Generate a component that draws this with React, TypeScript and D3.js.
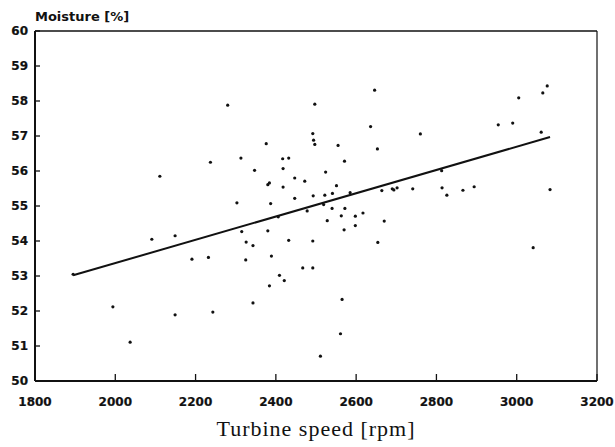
import React from "react";
import * as d3 from "d3";

const speed = [
  1895, 2280, 2237, 2111, 2646, 2497, 2636, 2492, 2494, 2497, 2376, 2555, 2653, 2313, 2417, 2432, 2571,
  2347, 2418, 2524, 2447, 2472, 2380, 2384, 2551, 2418, 2493, 2522, 2541, 2585, 2447, 2664, 2690, 2694,
  2702, 2303, 2387, 2519, 2540, 2572,
  3076, 3065, 3005, 2954, 2990, 3061, 2760, 2813, 2741, 2814, 2826, 2866, 2894, 3083,
  2091, 2149, 2191, 2232, 1994, 2149, 2243, 2037,
  2315, 2406, 2478, 2380, 2326, 2343, 2432, 2492, 2325, 2389, 2467, 2492, 2409, 2421, 2384, 2343, 2565,
  2561, 2511, 2528, 2563, 2598, 2617, 2570, 2598, 2670, 2654,
  3041,
];
const moisture = [
  53.05, 57.88, 56.25, 55.85, 58.31, 57.91, 57.27, 57.07, 56.88, 56.76, 56.78, 56.73, 56.63, 56.37, 56.35,
  56.37, 56.28, 56.02, 56.07, 55.97, 55.8, 55.71, 55.61, 55.66, 55.58, 55.54, 55.29, 55.31, 55.36, 55.38,
  55.22, 55.44, 55.49, 55.46, 55.52, 55.09, 55.07, 55.04, 54.93, 54.93,
  58.43, 58.23, 58.09, 57.32, 57.37, 57.11, 57.06, 56.01, 55.49, 55.52, 55.31, 55.45, 55.55, 55.47,
  54.05, 54.15, 53.48, 53.53, 52.12, 51.89, 51.97, 51.11,
  54.27, 54.69, 54.86, 54.29, 53.97, 53.87, 54.02, 54.0, 53.46, 53.57, 53.23, 53.23, 53.02, 52.87, 52.72,
  52.23, 52.33, 51.35, 50.71, 54.58, 54.72, 54.71, 54.8, 54.32, 54.44, 54.57, 53.96,
  53.81,
];
const fitSpeed = [1895, 3083];
const fitMoisture = [53.02, 56.97];
const xTicks = [1800, 2000, 2200, 2400, 2600, 2800, 3000, 3200];
const yTicks = [50, 51, 52, 53, 54, 55, 56, 57, 58, 59, 60];
const xTitle = "Turbine speed [rpm]";
const yTitle = "Moisture [%]";

export default function App() {
  const W = 615, H = 447;
  const L = 35, R = 597, T = 31, B = 381;
  const x = d3.scaleLinear().domain([1800, 3200]).range([L, R]);
  const y = d3.scaleLinear().domain([50, 60]).range([B, T]);
  const line = d3.line<number>().x((_, i) => x(fitSpeed[i])).y((d) => y(d));
  const tickFont = { fontFamily: "DejaVu Sans", fontWeight: 700, fontSize: 12 } as const;
  return (
    <svg width={W} height={H} style={{ position: "absolute", left: 0, top: 0, background: "#fff" }}>
      <rect x={0} y={0} width={W} height={H} fill="#fff" />
      <line x1={L} y1={T} x2={R} y2={T} stroke="#111" strokeWidth={1.6} />
      <line x1={R} y1={T} x2={R} y2={B} stroke="#111" strokeWidth={1.2} />
      <line x1={L} y1={T} x2={L} y2={B} stroke="#111" strokeWidth={2} />
      <line x1={L} y1={B} x2={R} y2={B} stroke="#111" strokeWidth={2} />
      {yTicks.map((t) => (
        <g key={"y" + t}>
          <line x1={L} x2={L + 5} y1={y(t)} y2={y(t)} stroke="#111" strokeWidth={1.3} />
          <text x={L - 7} y={y(t)} dy="0.36em" textAnchor="end" {...tickFont} fill="#111" stroke="#111" strokeWidth={0.2}>
            {t}
          </text>
        </g>
      ))}
      {xTicks.map((t) => (
        <g key={"x" + t}>
          <line x1={x(t)} x2={x(t)} y1={B} y2={B - 7} stroke="#111" strokeWidth={1.3} />
          <text x={x(t)} y={B + 25} textAnchor="middle" {...tickFont} fill="#111" stroke="#111" strokeWidth={0.2}>
            {t}
          </text>
        </g>
      ))}
      <text x={L} y={21} {...tickFont} fontSize={13} fill="#111">
        {yTitle}
      </text>
      <text
        x={316}
        y={436}
        textAnchor="middle"
        fontFamily="Liberation Serif"
        fontSize={22}
        letterSpacing={1}
        fill="#111"
      >
        {xTitle}
      </text>
      <path d={line(fitMoisture) || ""} fill="none" stroke="#111" strokeWidth={2} />
      {speed.map((s, i) => (
        <circle key={i} cx={x(s)} cy={y(moisture[i])} r={1.6} fill="#111" />
      ))}
    </svg>
  );
}
